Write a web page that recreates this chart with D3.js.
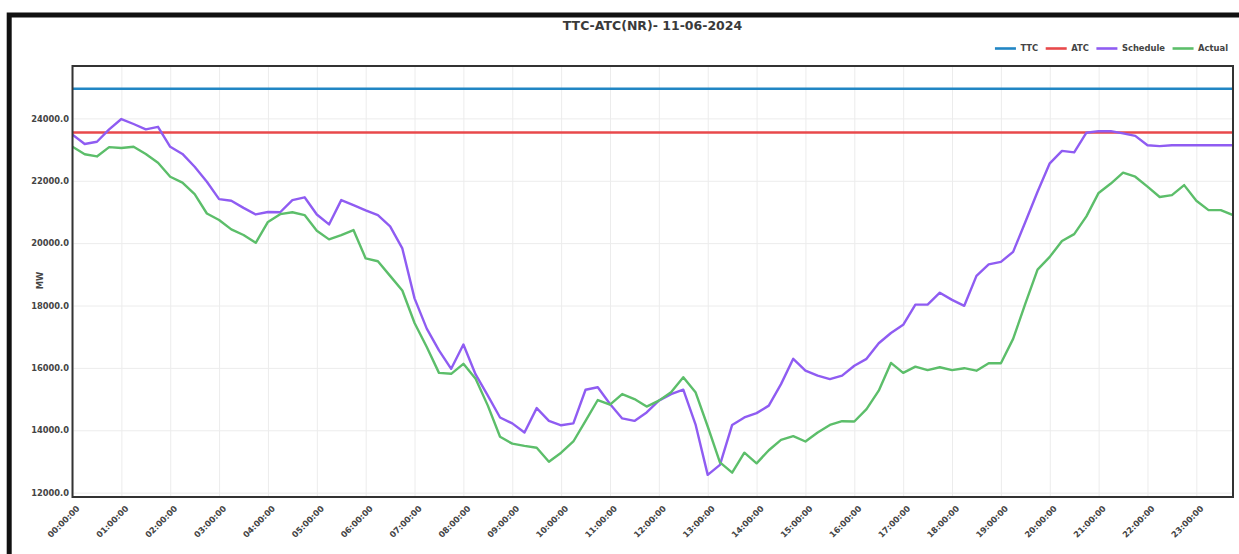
<!DOCTYPE html>
<html lang="en">

<head>
    <meta charset="UTF-8">
    <title>TTC-ATC(NR)- 11-06-2024</title>
    <script src="https://d3js.org/d3.v7.min.js"></script>
    <style>
        body { margin: 0; background: #fff; }
        svg text { font-family: "DejaVu Sans", Verdana, sans-serif; font-weight: bold; }
        .grid line { stroke: #ececec; stroke-width: 1; }
        .grid path { display: none; }
    </style>
</head>

<body>
    <svg width="1239" height="554"></svg>
    <script>
        // hour labels on the x axis
        const hourTicks = ["00:00:00", "01:00:00", "02:00:00", "03:00:00", "04:00:00", "05:00:00",
            "06:00:00", "07:00:00", "08:00:00", "09:00:00", "10:00:00", "11:00:00",
            "12:00:00", "13:00:00", "14:00:00", "15:00:00", "16:00:00", "17:00:00",
            "18:00:00", "19:00:00", "20:00:00", "21:00:00", "22:00:00", "23:00:00"];

        const yTicks = [12000, 14000, 16000, 18000, 20000, 22000, 24000];

        const ttcValue = 24950;
        const atcValue = 23550;

        // 15 minute blocks, 00:00 .. 23:45
        const schedule = [
            23480, 23180, 23250, 23650, 23980, 23820, 23650, 23730,
            23090, 22860, 22450, 21970, 21410, 21360, 21130, 20920,
            21000, 20990, 21380, 21470, 20920, 20600, 21380, 21220,
            21050, 20900, 20540, 19830, 18230, 17260, 16560, 15970,
            16750, 15790, 15110, 14410, 14220, 13930, 14710, 14300,
            14160, 14220, 15300, 15380, 14840, 14380, 14300, 14570,
            14950, 15160, 15300, 14190, 12570, 12890, 14170, 14410,
            14550, 14790, 15480, 16290, 15910, 15750, 15640, 15750,
            16070, 16290, 16790, 17120, 17380, 18030, 18030, 18410,
            18180, 17990, 18950, 19320, 19400, 19720, 20680, 21650,
            22560, 22960, 22910, 23540, 23590, 23590, 23520, 23440,
            23140, 23110, 23140, 23140, 23140, 23140, 23140, 23140
        ];

        const actual = [
            23090, 22850, 22780, 23080, 23050, 23090, 22860, 22580,
            22130, 21940, 21570, 20950, 20740, 20440, 20260, 20010,
            20680, 20930, 20990, 20900, 20400, 20120, 20260, 20420,
            19510, 19420, 18950, 18480, 17440, 16670, 15840, 15810,
            16130, 15650, 14790, 13790, 13570, 13500, 13440, 12990,
            13280, 13640, 14300, 14970, 14820, 15160, 15000, 14760,
            14950, 15220, 15700, 15220, 14120, 12970, 12640, 13280,
            12940, 13360, 13690, 13810, 13640, 13930, 14170, 14290,
            14280, 14680, 15270, 16160, 15840, 16040, 15930, 16020,
            15930, 15990, 15910, 16150, 16150, 16930, 18060, 19150,
            19560, 20070, 20290, 20860, 21610, 21910, 22260, 22130,
            21810, 21480, 21540, 21860, 21360, 21060, 21060, 20900
        ];

        const seriesNames = ["TTC", "ATC", "Schedule", "Actual"];
        const seriesColors = ["#2186c4", "#e8494b", "#8f5cf2", "#5cbe6a"];

        const margin = { top: 66, right: 6, bottom: 57, left: 72.5 },
            width = 1239 - margin.left - margin.right,
            height = 554 - margin.top - margin.bottom;

        const root = d3.select("svg");

        // dark frame of the window the chart sits in
        root.append("path")
            .attr("d", "M9.2,554 V15 H1239")
            .attr("fill", "none")
            .attr("stroke", "#111")
            .attr("stroke-width", 5);

        root.append("text")
            .attr("x", 652.5)
            .attr("y", 29.5)
            .attr("text-anchor", "middle")
            .attr("font-size", 12.5)
            .attr("fill", "#3a3a3a")
            .text("TTC-ATC(NR)- 11-06-2024");

        const svg = root.append("g")
            .attr("transform", `translate(${margin.left},${margin.top})`);

        const slots = d3.range(schedule.length);

        const x = d3.scaleLinear()
            .domain([0, slots.length - 1])
            .range([0, width]);

        const y = d3.scaleLinear()
            .domain([11860, 25680])
            .range([height, 0]);

        const hourIdx = hourTicks.map((d, i) => i * 4);

        // grid
        svg.append("g")
            .attr("class", "grid")
            .attr("transform", `translate(0,${height})`)
            .call(d3.axisBottom(x).tickValues(hourIdx).tickSize(-height).tickFormat(""));

        svg.append("g")
            .attr("class", "grid")
            .call(d3.axisLeft(y).tickValues(yTicks).tickSize(-width).tickFormat(""));

        svg.append("clipPath")
            .attr("id", "plot-clip")
            .append("rect")
            .attr("width", width)
            .attr("height", height);

        const line = d3.line()
            .x((d, i) => x(i))
            .y(d => y(d));

        const seriesData = [
            slots.map(() => ttcValue),
            slots.map(() => atcValue),
            schedule,
            actual
        ];

        svg.append("g")
            .attr("clip-path", "url(#plot-clip)")
            .selectAll("path")
            .data(seriesData)
            .enter().append("path")
            .attr("d", line)
            .attr("fill", "none")
            .attr("stroke", (d, i) => seriesColors[i])
            .attr("stroke-width", 2.4)
            .attr("stroke-linejoin", "round");

        // plot border
        svg.append("rect")
            .attr("width", width)
            .attr("height", height)
            .attr("fill", "none")
            .attr("stroke", "#333")
            .attr("stroke-width", 2);

        // y axis labels
        const yAxis = svg.append("g")
            .call(d3.axisLeft(y).tickValues(yTicks).tickSize(0).tickPadding(3.5).tickFormat(d3.format(".1f")));
        yAxis.select(".domain").remove();
        yAxis.selectAll("text")
            .attr("font-size", 8.3)
            .attr("fill", "#444");

        // x axis labels
        const xAxis = svg.append("g")
            .attr("transform", `translate(0,${height})`)
            .call(d3.axisBottom(x).tickValues(hourIdx).tickSize(0).tickFormat(i => hourTicks[i / 4]));
        xAxis.select(".domain").remove();
        xAxis.selectAll("text")
            .attr("font-size", 8.3)
            .attr("fill", "#444")
            .attr("text-anchor", "end")
            .attr("dy", "0.35em")
            .attr("transform", "translate(3,8) rotate(-45)");

        svg.append("text")
            .attr("transform", `translate(-30,${height / 2 - 1}) rotate(-90)`)
            .attr("text-anchor", "middle")
            .attr("font-size", 8.3)
            .attr("fill", "#444")
            .text("MW");

        // legend, right aligned above the plot
        const legend = root.append("g");
        let lx = 0;
        seriesNames.forEach((name, i) => {
            const item = legend.append("g").attr("transform", `translate(${lx},0)`);
            item.append("line")
                .attr("x1", 0).attr("x2", 21)
                .attr("stroke", seriesColors[i])
                .attr("stroke-width", 2.6);
            const t = item.append("text")
                .attr("x", 25.5)
                .attr("dy", "0.35em")
                .attr("font-size", 8.4)
                .attr("fill", "#444")
                .text(name);
            lx += 25.5 + t.node().getComputedTextLength() + 7.5;
        });
        legend.attr("transform", `translate(${1235.5 - lx},48.5)`);
    </script>
</body>

</html>
